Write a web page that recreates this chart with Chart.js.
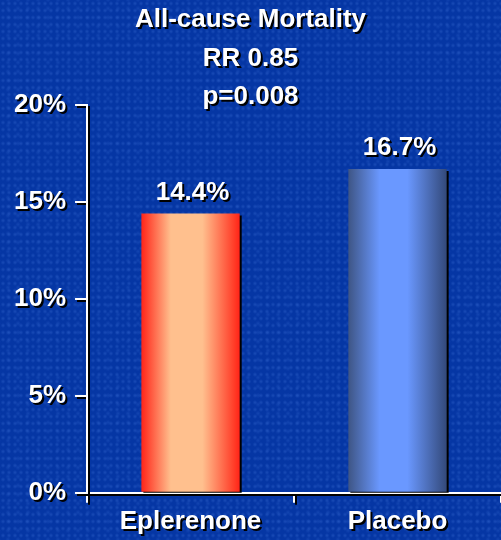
<!DOCTYPE html>
<html>
<head>
<meta charset="utf-8">
<script src="https://cdn.jsdelivr.net/npm/chart.js@4.4.1/dist/chart.umd.min.js"></script>
<style>
  html, body { margin: 0; padding: 0; overflow: hidden; }
  body {
    width: 501px; height: 540px;
    background-color: #0536a4;
    background-image:
      radial-gradient(circle, rgba(50,100,205,0.45) 0, transparent 2.4px),
      radial-gradient(circle, rgba(45,95,200,0.35) 0, transparent 2.8px);
    background-size: 6px 7px, 10px 9px;
    background-position: 0 0, 3px 4px;
  }
  #wrap { position: relative; width: 501px; height: 540px; }
</style>
</head>
<body>
<div id="wrap"><canvas id="mortalityChart"></canvas></div>
<script>
// data
const categories = ['Eplerenone', 'Placebo'];
const mortality = [14.4, 16.7];
const yTicks = [0, 5, 10, 15, 20];
const titleLines = ['All-cause Mortality', 'RR 0.85', 'p=0.008'];

const FONT = '"Liberation Sans", Arial, sans-serif';
const BAR_PCT = 0.475;

// bar gradients, one per category
const gradStops = [
    [[0, '#ff2418'], [0.3, '#ffc08e'], [0.62, '#ffc08e'], [0.95, '#ff3a26'], [1, '#ff2418']],
    [[0, '#3e5585'], [0.32, '#6a98ff'], [0.6, '#6a98ff'], [1, '#33497a']]
];

function barFill(ctx) {
    const chart = ctx.chart;
    if (!chart.chartArea || ctx.type !== 'data') return '#888';
    const x = chart.scales.x;
    const cx = x.getPixelForValue(ctx.dataIndex);
    const half = (x.width / categories.length) * BAR_PCT / 2;
    const g = chart.ctx.createLinearGradient(cx - half, 0, cx + half, 0);
    gradStops[ctx.dataIndex].forEach(s => g.addColorStop(s[0], s[1]));
    return g;
}

// slide-style hard black drop shadow on everything + title and value labels
const slideText = {
    id: 'slideText',
    beforeDraw(chart) {
        const c = chart.ctx;
        c.save();
        c.shadowColor = '#000';
        c.shadowOffsetX = 2;
        c.shadowOffsetY = 2;
        c.shadowBlur = 0;
    },
    afterDraw(chart) {
        const c = chart.ctx;
        c.fillStyle = '#fff';
        c.font = 'bold 26px ' + FONT;
        c.textAlign = 'center';
        c.textBaseline = 'middle';
        titleLines.forEach((t, i) => c.fillText(t, chart.width / 2, 20 + i * 38.5));

        const meta = chart.getDatasetMeta(0);
        meta.data.forEach((bar, i) => {
            c.fillText(mortality[i] + '%', bar.x + 2, bar.y - 21);
        });
        c.restore();
    }
};

new Chart(document.getElementById('mortalityChart'), {
    type: 'bar',
    data: {
        labels: categories,
        datasets: [{
            data: mortality,
            backgroundColor: barFill,
            borderWidth: 0,
            barPercentage: BAR_PCT,
            categoryPercentage: 1
        }]
    },
    options: {
        responsive: true,
        maintainAspectRatio: false,
        animation: false,
        layout: { padding: { top: 105, left: 5, right: 0, bottom: 0 } },
        plugins: {
            legend: { display: false },
            title: { display: false },
            tooltip: { enabled: false }
        },
        scales: {
            x: {
                grid: { display: true, offset: true, drawOnChartArea: false, color: '#fff', lineWidth: 2, tickLength: 10 },
                border: { display: true, color: '#fff', width: 2 },
                ticks: { color: '#fff', font: { family: FONT, size: 26, weight: 'bold' }, padding: 3 }
            },
            y: {
                min: 0,
                max: 20,
                afterBuildTicks: s => { s.ticks = yTicks.map(v => ({ value: v })); },
                grid: { display: true, drawOnChartArea: false, color: '#fff', lineWidth: 2, tickLength: 12 },
                border: { display: true, color: '#fff', width: 2 },
                ticks: {
                    color: '#fff',
                    font: { family: FONT, size: 26, weight: 'bold' },
                    padding: 9,
                    callback: v => v + '%'
                }
            }
        }
    },
    plugins: [slideText]
});
</script>
</body>
</html>
